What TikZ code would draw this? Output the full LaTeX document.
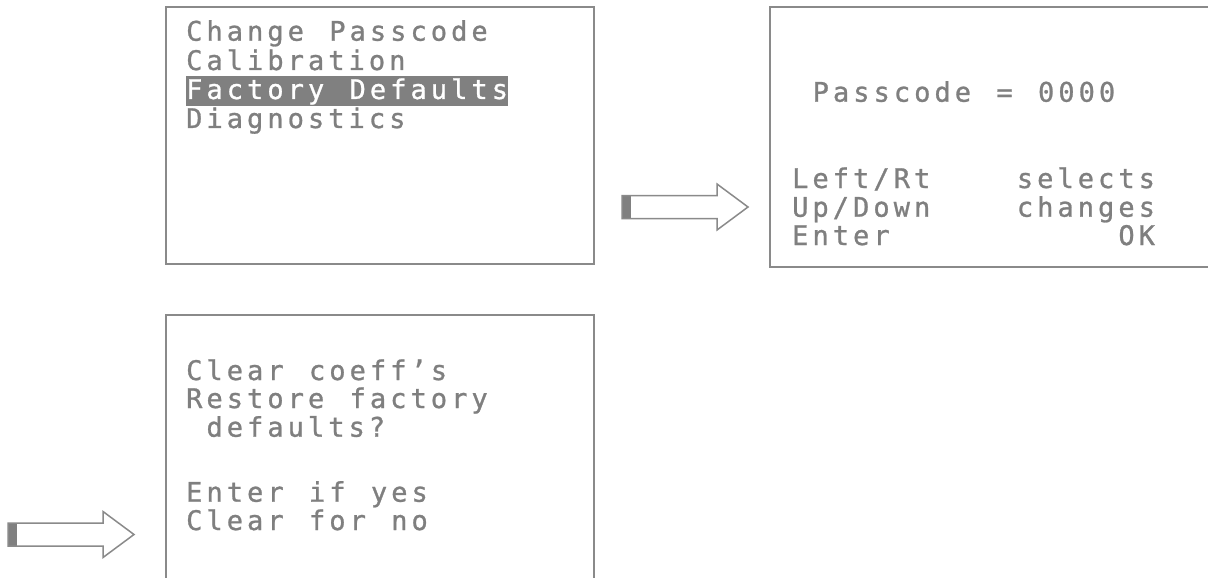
\documentclass[tikz,border=0pt]{standalone}
\usepackage{fontspec}
\usepackage{tikz}
\usetikzlibrary{positioning,calc}
\newfontfamily\lcdfont[LetterSpace=15,WordSpace=1.249,FakeBold=1]{DejaVu Sans Mono}
\definecolor{lcdtext}{HTML}{7F7F7F}
\definecolor{frame}{HTML}{8A8A8A}
\definecolor{tailgray}{HTML}{808080}
% hollow pointer arrow, #1 = middle of its tail
\newcommand{\hollowarrow}[1]{%
 \fill[tailgray] ($(#1)+(0,-11.5)$) rectangle ++(9,23);
 \draw[pointer] (#1) ++(0,-11.5) -- ++(95,0) -- ++(0,-11.5) -- ++(31,23)
   -- ++(-31,23) -- ++(0,-11.5) -- ++(-95,0) -- cycle;}

\begin{document}
\begin{tikzpicture}[x=1pt,y=-1pt,
 lcd/.style={font=\lcdfont\fontsize{27}{28.8}\selectfont,text=lcdtext,inner sep=0pt,anchor=base west},
 hilite/.style={lcd,fill=tailgray,text=white,text height=23pt,text depth=7pt},
 screen/.style={draw=frame,line width=1.8pt},
 pointer/.style={draw=frame,line width=1.5pt}]
\clip (0,0) rectangle (1208,578);
\fill[white] (0,0) rectangle (1208,578);

% menu screen
\draw[screen] (166,7) rectangle (594,264);
\node[lcd] (chg) at (186,40.7) {Change Passcode};
\node[lcd] (cal) at (186,70) {Calibration};
\node[hilite] (fac) at (186,99) {Factory Defaults};
\node[lcd] (dia) at (186,128) {Diagnostics};

% passcode screen
\draw[screen] (770,7) rectangle (1240,267);
\node[lcd] (code) at (812.5,101.7) {Passcode = 0000};
\node[lcd] (lr) at (792,188) {Left/Rt};
\node[lcd] (ud) at (792,216.7) {Up/Down};
\node[lcd] (ent) at (792,245) {Enter};
\node[lcd] (slc) at (1016.7,188) {selects};
\node[lcd] (chs) at (1016.7,216.7) {changes};
\node[lcd] (ok) at (1118.2,245) {OK};

% restore screen
\draw[screen] (166,315) rectangle (594,620);
\node[lcd] (clr) at (186,380) {Clear coeff’s};
\node[lcd] (rst) at (186,408) {Restore factory};
\node[lcd] (dfl) at (206.3,436.7) {defaults?};
\node[lcd] (yes) at (186,501.7) {Enter if yes};
\node[lcd] (no) at (186,530) {Clear for no};

% pointers
\coordinate (p1) at (622,207);
\coordinate (p2) at (8,534.5);
\hollowarrow{p1}
\hollowarrow{p2}
\end{tikzpicture}
\end{document}
